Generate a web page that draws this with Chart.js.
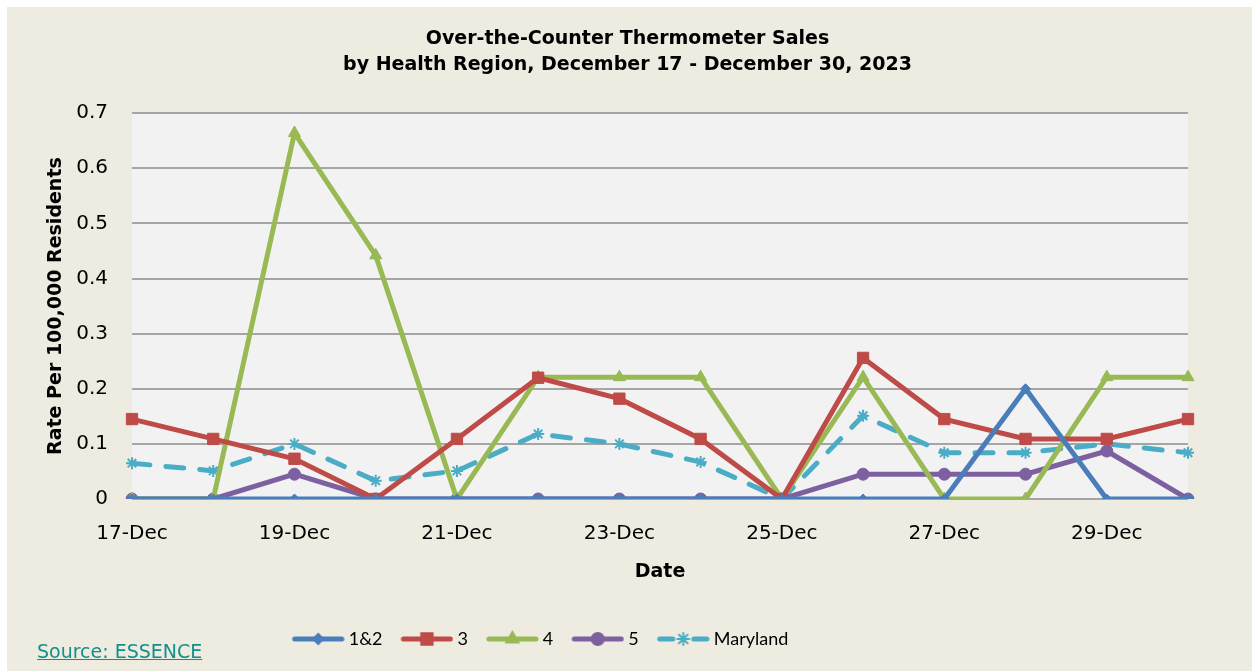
<!DOCTYPE html>
<html>
<head>
<meta charset="utf-8">
<script src="https://cdn.jsdelivr.net/npm/chart.js@4.4.0/dist/chart.umd.min.js"></script>
<style>
  html, body { margin: 0; padding: 0; background: #ffffff; }
  #wrap { position: absolute; left: 7px; top: 7px; width: 1245px; height: 664px; background: #EEEBE0; }
  #source { position: absolute; left: 30px; top: 633px; font-family: "DejaVu Sans", sans-serif; font-size: 19px;
            color: #138F8A; text-decoration: underline; }
</style>
</head>
<body>
<div id="wrap">
  <canvas id="LineChart"></canvas>
  <div id="source">Source: ESSENCE</div>
</div>
<script>
// Dates, one per day
const dates = ['17-Dec', '18-Dec', '19-Dec', '20-Dec', '21-Dec', '22-Dec', '23-Dec',
  '24-Dec', '25-Dec', '26-Dec', '27-Dec', '28-Dec', '29-Dec', '30-Dec'];

// Rate per 100,000 residents, by health region
const region12 = [0, 0, 0, 0, 0, 0, 0, 0, 0, 0, 0, 0.2, 0, 0];
const region3 = [0.145, 0.109, 0.073, 0, 0.109, 0.22, 0.182, 0.109, 0, 0.256, 0.145, 0.109, 0.109, 0.145];
const region4 = [0, 0, 0.664, 0.442, 0, 0.221, 0.221, 0.221, 0, 0.221, 0, 0, 0.221, 0.221];
const region5 = [0, 0, 0.045, 0, 0, 0, 0, 0, 0, 0.045, 0.045, 0.045, 0.087, 0];
const maryland = [0.065, 0.051, 0.1, 0.033, 0.051, 0.118, 0.1, 0.067, 0, 0.151, 0.084, 0.084, 0.1, 0.084];

const yTicks = [0, 0.1, 0.2, 0.3, 0.4, 0.5, 0.6, 0.7];

const TICK_FONT = { family: 'DejaVu Sans', size: 20 };

// Legend swatch: a line with the marker in the middle.
// The image is wider than the legend box so the line ends close to the text.
function swatch(color, style, radius, dashed) {
  const c = document.createElement('canvas');
  c.width = 63; c.height = 18;
  const g = c.getContext('2d');
  g.strokeStyle = color;
  g.fillStyle = color;
  g.lineWidth = 5;
  g.lineCap = 'round';
  if (dashed) {
    g.beginPath(); g.moveTo(13, 9); g.lineTo(26, 9); g.stroke();
    g.beginPath(); g.moveTo(47, 9); g.lineTo(60, 9); g.stroke();
  } else {
    g.beginPath(); g.moveTo(13, 9); g.lineTo(60, 9); g.stroke();
  }
  g.lineWidth = 2;
  Chart.helpers.drawPoint(g, { pointStyle: style, radius: radius, borderWidth: 2, rotation: 0 }, 36.5, 9);
  return c;
}

const plotBg = {
  id: 'plotBg',
  beforeDraw(chart) {
    const { ctx, chartArea: a } = chart;
    ctx.save();
    ctx.fillStyle = '#F2F2F2';
    ctx.fillRect(a.left, a.top, a.right - a.left, a.bottom - a.top);
    ctx.restore();
  }
};

// title is centred on the whole canvas, the legend sits left of centre
const boxShift = {
  id: 'boxShift',
  afterLayout(chart) {
    chart.legend.left -= 60;
    chart.legend.right -= 60;
    chart.titleBlock.left += 30;
    chart.titleBlock.right += 30;
  }
};

function series(label, data, color, style, radius, extra) {
  return Object.assign({
    label: label,
    data: data,
    borderColor: color,
    backgroundColor: color,
    borderWidth: 5,
    pointStyle: style,
    pointRadius: radius,
    pointHoverRadius: radius,
    pointBorderWidth: 1,
    pointBorderColor: color,
    pointBackgroundColor: color,
    tension: 0,
    legendStyle: style,
    legendRadius: radius
  }, extra || {});
}

const chartData = {
  labels: dates,
  datasets: [
    series('1&2', region12, '#4A7EBB', 'rectRot', 5),
    series('3', region3, '#BE4B48', 'rect', 8),
    series('4', region4, '#98B954', 'triangle', 7),
    series('5', region5, '#7D60A0', 'circle', 6),
    series('Maryland', maryland, '#4BACC6', 'star', 6,
      { borderDash: [18, 16], borderCapStyle: 'round', pointBorderWidth: 2 })
  ]
};

new Chart(document.getElementById('LineChart'), {
  type: 'line',
  data: chartData,
  plugins: [plotBg, boxShift],
  options: {
    responsive: true,
    maintainAspectRatio: false,
    animation: false,
    layout: { padding: { left: 0, right: 64, top: 0, bottom: 13 } },
    plugins: {
      title: {
        display: true,
        text: ['Over-the-Counter Thermometer Sales', 'by Health Region, December 17 - December 30, 2023'],
        color: '#000',
        font: { family: 'DejaVu Sans', size: 19, weight: 'bold', lineHeight: 1.32 },
        padding: { top: 20, bottom: 36 }
      },
      legend: {
        position: 'bottom',
        labels: {
          usePointStyle: true,
          pointStyleWidth: 53,
          padding: 13,
          color: '#000',
          font: { family: 'Lato', size: 18 },
          generateLabels(chart) {
            return chart.data.datasets.map((ds, i) => ({
              text: ds.label,
              datasetIndex: i,
              hidden: false,
              fontColor: '#000',
              lineWidth: 0,
              strokeStyle: ds.borderColor,
              fillStyle: ds.borderColor,
              pointStyle: swatch(ds.borderColor, ds.legendStyle, ds.legendRadius, !!ds.borderDash)
            }));
          }
        }
      },
      tooltip: { enabled: false }
    },
    scales: {
      x: {
        afterFit(scale) { scale.height = 118; },
        border: { display: false },
        grid: { display: false, drawTicks: false },
        ticks: {
          autoSkip: false,
          maxRotation: 0,
          padding: 23,
          color: '#000',
          font: TICK_FONT,
          callback(value, index) { return index % 2 === 0 ? dates[index] : ''; }
        },
        title: {
          display: true,
          text: 'Date',
          color: '#000',
          font: { family: 'DejaVu Sans', size: 19, weight: 'bold' },
          padding: { top: 0, bottom: 34 }
        }
      },
      y: {
        min: 0,
        max: 0.7,
        afterFit(scale) { scale.width = 125; },
        afterBuildTicks(scale) { scale.ticks = yTicks.map(v => ({ value: v })); },
        border: { display: false },
        grid: { color: '#A5A5A5', lineWidth: 2, drawTicks: false },
        ticks: {
          padding: 24,
          color: '#000',
          font: TICK_FONT,
          callback(value) { return String(Math.round(value * 10) / 10); }
        },
        title: {
          display: true,
          text: 'Rate Per 100,000 Residents',
          color: '#000',
          font: { family: 'DejaVu Sans', size: 19, weight: 'bold' },
          padding: { top: 38, bottom: 0 }
        }
      }
    }
  }
});
</script>
</body>
</html>
